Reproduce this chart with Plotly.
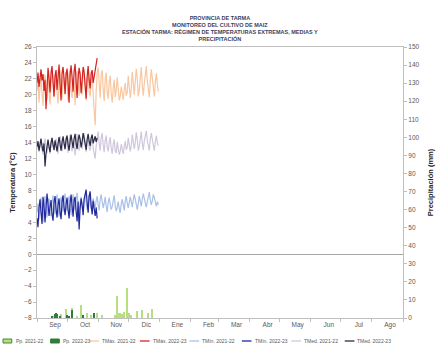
import pandas as pd
import plotly.graph_objects as go

# ---- daily temperatures (°C) ----
tmax_2122 = [
    20.5, 22.0, 19.0, 21.5, 22.8, 20.2, 18.6, 21.8, 22.5, 20.9, 19.4, 22.3, 21.0, 18.8, 21.6,
    23.0, 22.1, 19.7, 21.2, 22.7, 20.4, 18.9, 22.0, 23.1, 21.3, 19.5, 22.4, 21.7, 20.0, 22.9,
    21.5, 19.2, 22.6, 23.2, 20.8, 19.6, 22.1, 21.4, 18.7, 22.5, 23.0, 20.6, 19.9, 22.8, 21.2,
    20.0, 22.4, 23.3, 21.1, 19.3, 21.9, 22.6, 20.5, 19.8, 21.7, 22.9, 20.2, 17.8, 16.2, 20.4, 22.8,
    23.4, 21.0, 19.6, 22.5, 23.1, 20.7, 19.2, 22.0, 22.8, 20.3, 19.5, 21.6, 22.4, 20.1, 19.0,
    20.8, 21.9, 19.7, 20.5, 22.2, 20.9, 19.3, 19.8, 21.0, 20.2, 19.4, 20.6, 21.5, 19.9, 20.3,
    22.4, 21.1, 19.6, 20.8, 22.9, 21.5, 20.0, 21.7, 23.3, 22.0, 19.8, 20.6, 22.5, 23.5, 21.2,
    19.9, 21.4, 23.0, 23.6, 21.8, 20.3, 19.7, 21.9, 23.2, 22.1, 20.5, 19.8, 21.6, 22.7, 21.3, 20.4,
]
tmax_2223 = [
    21.5, 22.8, 21.0, 22.5, 23.2, 21.8, 22.6, 20.5, 21.9, 18.2, 22.0, 23.4, 22.1, 20.3, 22.8,
    23.6, 21.5, 19.8, 22.4, 23.1, 20.6, 22.9, 23.8, 21.2, 19.3, 22.7, 23.5, 22.0, 20.1, 22.6,
    23.3, 21.4, 19.0, 22.5, 23.7, 22.2, 20.4, 22.9, 23.9, 21.6, 19.6, 22.1, 23.4, 22.6, 20.2,
    21.8, 23.5, 22.8, 20.7, 19.5, 22.3, 23.6, 21.9, 20.8, 22.7, 23.1, 21.5, 22.4, 23.3, 24.0, 24.6,
]
tmed_2122 = [
    13.2, 14.0, 12.8, 13.6, 14.4, 13.1, 12.5, 13.9, 14.5, 13.4, 12.7, 14.1, 13.5, 12.6, 13.8,
    14.6, 14.0, 13.0, 13.7, 14.5, 13.3, 12.6, 14.2, 14.8, 13.6, 12.9, 14.3, 13.9, 13.1, 14.7,
    13.8, 12.7, 14.4, 15.0, 13.5, 12.9, 14.2, 13.7, 12.4, 14.5, 15.1, 13.6, 13.0, 14.6, 13.9,
    13.2, 14.4, 15.2, 13.8, 12.8, 14.1, 14.7, 13.4, 13.0, 14.0, 15.0, 13.3, 12.3, 12.0, 13.6, 14.9,
    15.4, 13.9, 13.0, 14.6, 15.2, 13.7, 12.8, 14.3, 14.9, 13.4, 12.9, 14.0, 14.7, 13.3, 12.6,
    13.8, 14.4, 13.0, 12.7, 14.1, 13.5, 12.5, 12.9, 13.8, 13.2, 12.6, 13.5, 14.2, 13.1, 13.4,
    14.6, 13.8, 12.9, 13.6, 15.0, 14.1, 13.2, 14.0, 15.3, 14.4, 13.0, 13.5, 14.7, 15.4, 13.9,
    13.1, 14.2, 15.1, 15.5, 14.3, 13.4, 13.0, 14.5, 15.2, 14.4, 13.3, 13.0, 14.1, 14.9, 14.0, 13.6,
]
tmed_2223 = [
    13.5, 14.2, 13.0, 13.8, 14.5, 13.6, 12.9, 13.9, 11.0, 12.6, 13.8, 14.4, 13.5, 12.8, 14.0,
    14.6, 13.7, 13.1, 14.3, 13.6, 12.9, 13.9, 14.7, 13.8, 13.0, 14.1, 14.8, 13.9, 13.2, 14.4,
    14.9, 13.7, 13.0, 14.2, 15.0, 14.1, 13.3, 14.5, 15.1, 13.9, 13.2, 14.3, 15.0, 14.4, 13.4,
    14.1, 15.2, 14.6, 13.5, 13.1, 14.4, 15.1, 14.2, 13.6, 14.6, 15.0, 13.9, 14.3, 14.8, 14.1, 14.6,
]
tmin_2122 = [
    5.2, 6.4, 4.3, 5.9, 7.1, 5.6, 4.0, 6.3, 7.3, 5.8, 4.6, 6.7, 7.0, 5.1, 4.8,
    6.5, 7.4, 6.0, 5.0, 6.8, 7.5, 5.7, 4.7, 6.2, 7.2, 6.4, 5.3, 6.9, 7.6, 6.1,
    5.4, 6.6, 7.3, 5.9, 4.9, 6.7, 7.5, 6.3, 5.5, 6.8, 7.7, 6.2, 5.1, 6.4, 7.2,
    5.8, 5.3, 6.9, 7.6, 6.5, 5.6, 6.3, 7.4, 6.8, 5.7, 6.1, 7.0, 6.4, 5.9, 6.7, 7.3,
    6.2, 5.5, 6.9, 7.5, 6.6, 5.8, 6.4, 7.2, 6.0, 5.3, 6.5, 7.1, 6.3, 5.6, 6.0,
    6.8, 7.4, 6.1, 5.4, 5.9, 6.6, 5.7, 5.2, 6.3, 6.9, 6.2, 5.5, 6.7, 7.3, 6.4,
    5.8, 6.5, 7.2, 6.6, 5.9, 6.8, 7.5, 6.9, 6.1, 5.6, 6.4, 7.3, 6.7, 6.0, 6.9,
    7.6, 7.0, 6.3, 5.9, 6.6, 7.4, 7.8, 6.8, 6.2, 6.7, 7.5, 7.1, 6.3, 6.0, 6.6, 6.2,
]
tmin_2223 = [
    4.5, 3.4, 5.8, 6.9, 5.2, 3.8, 7.2, 6.1, 4.0, 5.5, 7.6, 6.3, 4.8, 5.9, 6.8,
    5.0, 4.2, 6.5, 7.3, 5.7, 4.6, 6.2, 7.0, 5.3, 4.4, 6.6, 7.4, 5.9, 4.9, 6.3,
    7.1, 5.6, 4.5, 6.4, 7.5, 6.0, 4.7, 6.8, 7.2, 5.4, 4.1, 6.6, 3.1, 5.8, 7.0,
    6.2, 4.9, 6.9, 7.7, 8.1, 6.5, 5.2, 7.3, 7.9, 6.1, 5.0, 6.7, 5.6, 4.8, 5.9, 4.5,
]

# ---- daily precipitation (mm), rainy days only ----
pp_2122_dates = [
    "2021-09-18", "2021-09-21", "2021-09-25", "2021-09-30", "2021-10-03", "2021-10-06",
    "2021-10-11", "2021-10-15", "2021-10-21", "2021-10-25", "2021-10-31", "2021-11-05",
    "2021-11-18", "2021-11-20", "2021-11-22", "2021-11-23", "2021-11-25", "2021-11-27",
    "2021-11-30", "2021-12-02", "2021-12-04", "2021-12-10", "2021-12-15", "2021-12-21",
    "2021-12-25",
]
pp_2122_mm = [
    1.0, 1.5, 2.0, 4.8, 1.2, 5.5,
    1.0, 7.0, 2.5, 1.5, 3.0, 1.8,
    1.5, 12.0, 2.5, 3.0, 2.0, 3.5,
    16.5, 2.5, 1.5, 4.0, 4.5, 3.0,
    4.8,
]
pp_2223_dates = [
    "2022-09-16", "2022-09-19", "2022-09-20", "2022-09-21", "2022-09-24", "2022-10-01",
    "2022-10-03", "2022-10-06", "2022-10-17", "2022-10-28",
]
pp_2223_mm = [1.0, 2.2, 2.5, 2.0, 1.2, 1.5, 1.0, 4.2, 1.5, 3.0]

month_labels = ["Sep", "Oct", "Nov", "Dic", "Ene", "Feb", "Mar", "Abr", "May", "Jun", "Jul", "Ago"]

# Both seasons share one Sep–Aug axis (the 2021-22 calendar).
season_start = pd.Timestamp("2021-09-01")
one_year = pd.DateOffset(years=1)
days_2122 = pd.date_range(season_start, periods=len(tmax_2122), freq="D")
days_2223 = pd.date_range(season_start, periods=len(tmax_2223), freq="D")
pp_2122_x = pd.to_datetime(pp_2122_dates)
pp_2223_x = pd.to_datetime(pp_2223_dates) - one_year

month_starts = pd.date_range(season_start, periods=13, freq="MS")
label_pos = [m + pd.Timedelta(days=18) for m in month_starts[:12]]

W, H = 446, 347
ML, MR, MT, MB = 36, 33, 47, 29
PW, PH = W - ML - MR, H - MT - MB

FONT = "Liberation Sans"
AXIS_GREY = "#bfbfbf"
TICK_GREY = "#595959"

C = {
    "pp21": "#b7df80", "pp21_edge": "#3f8a3a", "pp22": "#2f7d3a",
    "tmax21": "#f9c7a0", "tmax22": "#d62222",
    "tmin21": "#a9c1e6", "tmin22": "#23299e",
    "tmed21": "#cfc8dc", "tmed22": "#2c2c48",
}

fig = go.Figure()

bar_w = 0.8 * 86400000
fig.add_trace(go.Bar(x=pp_2122_x, y=pp_2122_mm, yaxis="y2", width=bar_w,
                     marker=dict(color=C["pp21"], line=dict(width=0)), name="Pp. 2021-22"))
fig.add_trace(go.Bar(x=pp_2223_x, y=pp_2223_mm, yaxis="y2", width=bar_w,
                     marker=dict(color=C["pp22"], line=dict(width=0)), name="Pp. 2022-23"))

lines = [
    (days_2122, tmax_2122, "tmax21", "TMáx. 2021-22"),
    (days_2122, tmed_2122, "tmed21", "TMed. 2021-22"),
    (days_2122, tmin_2122, "tmin21", "TMín. 2021-22"),
    (days_2223, tmax_2223, "tmax22", "TMáx. 2022-23"),
    (days_2223, tmed_2223, "tmed22", "TMed. 2022-23"),
    (days_2223, tmin_2223, "tmin22", "TMín. 2022-23"),
]
for x, y, key, name in lines:
    fig.add_trace(go.Scatter(x=x, y=y, mode="lines", name=name,
                             line=dict(color=C[key], width=1.2)))

fig.update_traces(showlegend=False)

# ---- hand-placed legend row under the axis ----
def px_x(px):
    return (px - ML) / PW

def px_y(py):
    return (H - MB - py) / PH

legend_items = [
    ("bar", C["pp21"], C["pp21_edge"], "Pp. 2021-22", 1),
    ("bar", C["pp22"], C["pp22"], "Pp. 2022-23", 50),
    ("line", C["tmax21"], None, "TMáx. 2021-22", 90),
    ("line", C["tmax22"], None, "TMáx. 2022-23", 142),
    ("line", C["tmin21"], None, "TMín. 2021-22", 193),
    ("line", C["tmin22"], None, "TMín. 2022-23", 247),
    ("line", C["tmed21"], None, "TMed. 2021-22", 298),
    ("line", C["tmed22"], None, "TMed. 2022-23", 353),
]
shapes = []
annotations = []
ly = 341
for kind, col, edge, label, x0 in legend_items:
    if kind == "bar":
        shapes.append(dict(type="rect", xref="paper", yref="paper",
                           x0=px_x(x0), x1=px_x(x0 + 9), y0=px_y(ly + 2), y1=px_y(ly - 2),
                           fillcolor=col, line=dict(color=edge, width=1)))
    else:
        shapes.append(dict(type="line", xref="paper", yref="paper",
                           x0=px_x(x0), x1=px_x(x0 + 10), y0=px_y(ly), y1=px_y(ly),
                           line=dict(color=col, width=1.3)))
    annotations.append(dict(text=label, xref="paper", yref="paper", x=px_x(x0 + 11),
                            y=px_y(ly), xanchor="left", yanchor="middle", showarrow=False,
                            font=dict(family=FONT, size=5, color=TICK_GREY)))

annotations.append(dict(
    text=("PROVINCIA DE TARMA<br>MONITOREO DEL CULTIVO DE MAIZ<br>"
          "ESTACIÓN TARMA: RÉGIMEN DE TEMPERATURAS EXTREMAS, MEDIAS Y<br>PRECIPITACIÓN"),
    xref="paper", yref="paper", x=0.5, y=1, yanchor="bottom", yshift=3,
    showarrow=False, align="center",
    font=dict(family=FONT, size=5.5, color="#3d3d5c", weight="bold"),
))

fig.update_layout(
    width=W, height=H,
    margin=dict(l=ML, r=MR, t=MT, b=MB, pad=0),
    paper_bgcolor="white", plot_bgcolor="white",
    barmode="overlay", bargap=0,
    font=dict(family=FONT, size=7, color=TICK_GREY),
    shapes=shapes, annotations=annotations,
    xaxis=dict(
        type="date",
        range=[month_starts[0], month_starts[-1]],
        tickmode="array", tickvals=label_pos, ticktext=month_labels,
        ticks="", showgrid=False, zeroline=False,
        showline=True, linecolor=AXIS_GREY, linewidth=1, mirror=True,
        tickfont=dict(size=6.5, color=TICK_GREY),
        minor=dict(tickmode="array", tickvals=list(month_starts), ticks="outside",
                   ticklen=3, tickcolor=AXIS_GREY, showgrid=False),
    ),
    yaxis=dict(
        range=[-8, 26], tickmode="linear", tick0=-8, dtick=2,
        ticks="outside", ticklen=3, tickcolor=AXIS_GREY,
        showgrid=False, zeroline=True, zerolinecolor="#a6a6a6", zerolinewidth=1,
        showline=True, linecolor=AXIS_GREY, linewidth=1,
        tickfont=dict(size=6.5, color=TICK_GREY),
        title=dict(text="Temperatura (°C)", standoff=7,
                   font=dict(size=7.5, color="#262626", weight="bold")),
    ),
    yaxis2=dict(
        overlaying="y", side="right",
        range=[0, 150], tickmode="linear", tick0=0, dtick=10,
        ticks="outside", ticklen=3, tickcolor=AXIS_GREY,
        showgrid=False, zeroline=False,
        showline=True, linecolor=AXIS_GREY, linewidth=1,
        tickfont=dict(size=6.5, color=TICK_GREY),
        title=dict(text="Precipitación (mm)", standoff=9,
                   font=dict(size=7.5, color="#262626", weight="bold")),
    ),
)

fig.write_html("out.html")
